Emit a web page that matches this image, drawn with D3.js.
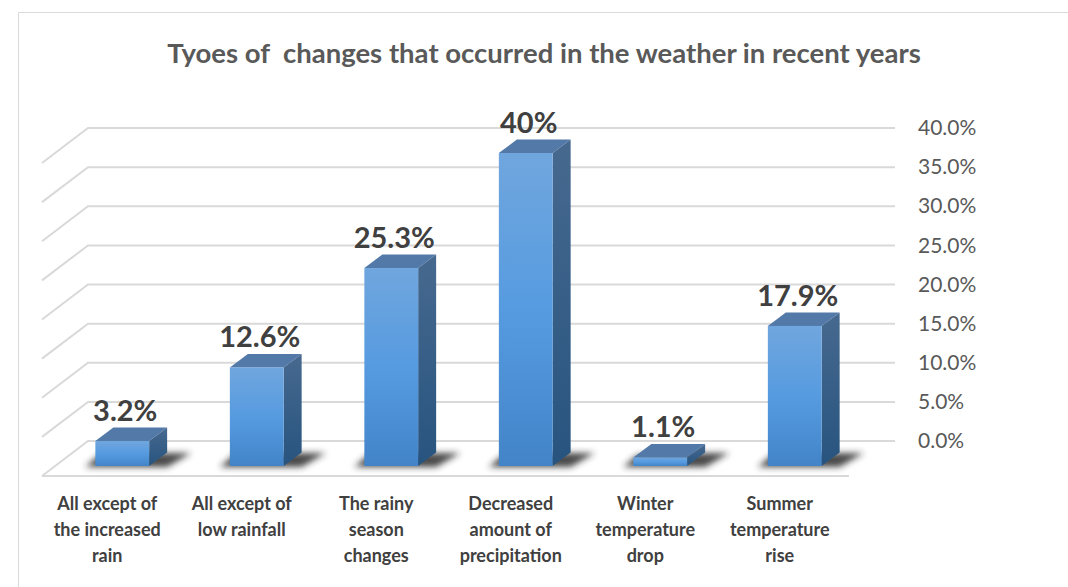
<!DOCTYPE html>
<html>
<head>
<meta charset="utf-8">
<script src="https://cdn.jsdelivr.net/npm/d3@7"></script>
<style>
html,body{margin:0;padding:0;background:#fff;}
svg{display:block;}
text{font-family:Lato,"Open Sans",sans-serif;}
</style>
</head>
<body>
<svg id="chart" width="1068" height="587"></svg>
<script>
const titleText = "Tyoes of  changes that occurred in the weather in recent years";
const categories = [
  ["All except of","the increased","rain"],
  ["All except of","low rainfall"],
  ["The rainy","season","changes"],
  ["Decreased","amount of","precipitation"],
  ["Winter","temperature","drop"],
  ["Summer","temperature","rise"]
];
const values = [3.2, 12.6, 25.3, 40, 1.1, 17.9];
const valueLabels = ["3.2%","12.6%","25.3%","40%","1.1%","17.9%"];
const ticks = [0,5,10,15,20,25,30,35,40];

const svg = d3.select("#chart");
const W = 1068, H = 587;

// back wall of the 3D plot
const wall = {left:88, right:895, top:128, bottom:441};
// shift from the back wall to the front edge of the floor
const floorShift = {dx:-46, dy:35};
// shift from the back wall to the plane of the bars' front faces
const barPlane = {dx:-33, dy:25};
// depth of each bar
const depth = {dx:18, dy:-13.5};

const y = d3.scaleLinear().domain([0,40]).range([wall.bottom, wall.top]);
const x = d3.scaleBand().domain(d3.range(categories.length))
  .range([wall.left+barPlane.dx, wall.right+barPlane.dx])
  .paddingInner(0.6).paddingOuter(0.3);

const defs = svg.append("defs");
function grad(id, stops){
  const g = defs.append("linearGradient").attr("id",id)
    .attr("x1",0).attr("y1",0).attr("x2",0).attr("y2",1);
  stops.forEach(s=>g.append("stop").attr("offset",s[0]).attr("stop-color",s[1]));
}
grad("frontFace",[[0,"#70a6de"],[0.5,"#569be0"],[1,"#4384c8"]]);
grad("sideFace",[[0,"#47698f"],[1,"#27547f"]]);
defs.append("filter").attr("id","soft").attr("x","-30%").attr("y","-60%").attr("width","160%").attr("height","220%")
  .append("feGaussianBlur").attr("stdDeviation",3.2);

// chart frame
svg.append("path").attr("d",`M18.5,${H} V12.5 H${W}`)
  .attr("fill","none").attr("stroke","#d9d9d9").attr("stroke-width",1);

svg.append("text").attr("x",544).attr("y",63).attr("text-anchor","middle")
  .attr("font-size",27.5).attr("font-weight",700).attr("fill","#595959")
  .attr("xml:space","preserve").style("white-space","pre").text(titleText);

// gridlines: back wall, side wall and floor
const gridColor = "#d9d9d9";
const gl = svg.append("g").attr("fill","none").attr("stroke",gridColor).attr("stroke-width",2);
gl.selectAll("path").data(ticks).join("path")
  .attr("d",t=>`M${wall.left+floorShift.dx},${y(t)+floorShift.dy} L${wall.left},${y(t)} H${wall.right}`);
gl.append("path")
  .attr("d",`M${wall.left+floorShift.dx},${y(0)+floorShift.dy} H${wall.right+floorShift.dx} L${wall.right},${y(0)}`)
  .attr("stroke-opacity",0);
gl.append("path")
  .attr("d",`M${wall.left+floorShift.dx},${y(0)+floorShift.dy} H${wall.right+floorShift.dx}`);

// value axis on the right
const axis = d3.axisRight(y).tickValues(ticks).tickSize(0).tickPadding(0).tickFormat(d=>d.toFixed(1)+"%");
const ga = svg.append("g").attr("transform",`translate(918,0)`).call(axis);
ga.select(".domain").remove();
ga.selectAll("text").attr("font-size",21).attr("fill","#595959")
  .style("font-family","Lato,'Open Sans',sans-serif");

const baseY = y(0)+barPlane.dy;

// bar shadows on the floor
svg.append("g").selectAll("path").data(values).join("path")
  .attr("filter","url(#soft)").attr("fill","#2a2a2a").attr("fill-opacity",0.85)
  .attr("d",(v,i)=>{
    const l=x(i), r=l+x.bandwidth();
    return `M${l-10},${baseY+1} L${r+depth.dx},${baseY+1} L${r+depth.dx+24},${baseY-13} L${r+depth.dx-6},${baseY-13} L${l+4},${baseY-11} Z`;
  });

const bars = svg.append("g").selectAll("g").data(values).join("g");
// top
bars.append("path").attr("fill","#5279a8").attr("d",(v,i)=>{
  const l=x(i), r=l+x.bandwidth(), t=baseY-(y(0)-y(v));
  return `M${l},${t} L${l+depth.dx},${t+depth.dy} H${r+depth.dx} L${r},${t} Z`;
});
// side
bars.append("path").attr("fill","url(#sideFace)").attr("d",(v,i)=>{
  const r=x(i)+x.bandwidth(), t=baseY-(y(0)-y(v));
  return `M${r},${t} L${r+depth.dx},${t+depth.dy} V${baseY+depth.dy} L${r},${baseY} Z`;
});
// front
bars.append("rect").attr("fill","url(#frontFace)")
  .attr("x",(v,i)=>x(i)).attr("width",x.bandwidth())
  .attr("y",v=>baseY-(y(0)-y(v))).attr("height",v=>y(0)-y(v));

// value labels above each bar
svg.append("g").selectAll("text").data(values).join("text")
  .attr("x",(v,i)=>x(i)+x.bandwidth()/2+3)
  .attr("y",v=>baseY-(y(0)-y(v))-20)
  .attr("text-anchor","middle").attr("font-size",29).attr("font-weight",700).attr("fill","#404040")
  .text((v,i)=>valueLabels[i]);

// category labels
const labels = svg.append("g").selectAll("text").data(categories).join("text")
  .attr("text-anchor","middle").attr("font-size",18).attr("font-weight",700).attr("fill","#404040");
labels.each(function(lines,i){
  const cx = x(i)+x.bandwidth()/2-15;
  d3.select(this).selectAll("tspan").data(lines).join("tspan")
    .attr("x",cx).attr("y",(d,k)=>510+k*26).text(d=>d);
});
</script>
</body>
</html>
